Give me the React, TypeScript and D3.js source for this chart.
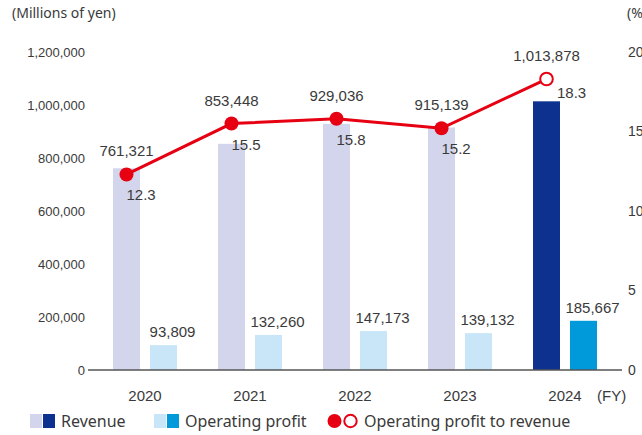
import React from "react";
import * as d3 from "d3";

const years = ["2020", "2021", "2022", "2023", "2024"];
const revenue = [761321, 853448, 929036, 915139, 1013878];
const opProfit = [93809, 132260, 147173, 139132, 185667];
const opMargin = [12.3, 15.5, 15.8, 15.2, 18.3];
const leftTicks = [0, 200000, 400000, 600000, 800000, 1000000, 1200000];
const rightTicks = [0, 5, 10, 15, 20];
const highlightYear = "2024";

const W = 642;
const H = 435;
const FONT = "'Liberation Sans', Arial, sans-serif";
const FONT2 = "'Noto Sans', sans-serif";
const TXT = "#3a3a3a";
const RED = "#e60012";

export default function App() {
  const x = d3.scaleBand<string>().domain(years).range([92.5, 617.5]).padding(0);
  const y = d3.scaleLinear().domain([0, 1200000]).range([370, 52]);
  const yr = d3.scaleLinear().domain([0, 20]).range([370, 52]);
  const fmt = d3.format(",");
  const barW = 27;
  const gap = 5;
  const cx = (yv: string) => (x(yv) as number) + x.bandwidth() / 2;
  const revX = (yv: string) => cx(yv) - gap - barW;
  const opX = (yv: string) => cx(yv) + gap;
  const ptX = (yv: string) => revX(yv) + barW / 2;

  const line = d3
    .line<number>()
    .x((_, i) => ptX(years[i]))
    .y((d) => yr(d));

  return (
    <svg width={W} height={H} style={{ position: "absolute", left: 0, top: 0 }} fontFamily={FONT}>
      <rect width={W} height={H} fill="#fff" />
      <text x={12} y={18} fontSize={14} fill={TXT} fontFamily={FONT2}>(Millions of yen)</text>
      <text x={627} y={18} fontSize={14} fill={TXT} fontFamily={FONT2}>(%)</text>

      {leftTicks.map((t) => (
        <text key={t} x={85} y={y(t)} dy="0.35em" textAnchor="end" fontSize={13} fill={TXT}>
          {fmt(t)}
        </text>
      ))}
      {rightTicks.map((t) => (
        <text key={t} x={628} y={yr(t)} dy="0.35em" textAnchor="start" fontSize={14} fill={TXT}>
          {t}
        </text>
      ))}

      {years.map((yv, i) => {
        const hi = yv === highlightYear;
        return (
          <g key={yv}>
            <rect x={revX(yv)} y={y(revenue[i])} width={barW} height={y(0) - y(revenue[i])} fill={hi ? "#0c318f" : "#d3d5ec"} />
            <rect x={opX(yv)} y={y(opProfit[i])} width={barW} height={y(0) - y(opProfit[i])} fill={hi ? "#0099d9" : "#c8e6f7"} />
          </g>
        );
      })}

      <line x1={88} x2={622} y1={370} y2={370} stroke="#555" strokeWidth={1.5} />

      {years.map((yv) => (
        <text key={yv} x={cx(yv)} y={401} textAnchor="middle" fontSize={15} fill={TXT}>
          {yv}
        </text>
      ))}
      <text x={597} y={401} fontSize={15} fill={TXT}>(FY)</text>

      <path d={line(opMargin) || ""} fill="none" stroke={RED} strokeWidth={3} />
      {years.map((yv, i) => {
        const hi = yv === highlightYear;
        return hi ? (
          <circle key={yv} cx={ptX(yv)} cy={yr(opMargin[i])} r={6.3} fill="#fff" stroke={RED} strokeWidth={2} />
        ) : (
          <circle key={yv} cx={ptX(yv)} cy={yr(opMargin[i])} r={7} fill={RED} />
        );
      })}

      {years.map((yv, i) => {
        const hi = yv === highlightYear;
        const px = ptX(yv);
        const py = yr(opMargin[i]);
        return (
          <g key={yv} fontSize={15} fill={TXT}>
            <text x={px} y={py - 18} textAnchor="middle">{fmt(revenue[i])}</text>
            <text x={hi ? revX(yv) + barW - 3 : px} y={hi ? py + 19 : py + 26} textAnchor="start">
              {opMargin[i].toFixed(1)}
            </text>
            <text x={opX(yv) + barW / 2 + 9} y={y(opProfit[i]) - 8} textAnchor="middle">
              {fmt(opProfit[i])}
            </text>
          </g>
        );
      })}

      <g fontSize={16} fill={TXT} fontFamily={FONT2}>
        <rect x={30} y={414} width={12} height={14} fill="#d3d5ec" />
        <rect x={43} y={414} width={12} height={14} fill="#0c318f" />
        <text x={61} y={427}>Revenue</text>
        <rect x={154} y={414} width={12} height={14} fill="#c8e6f7" />
        <rect x={167} y={414} width={12} height={14} fill="#0099d9" />
        <text x={185} y={427}>Operating profit</text>
        <circle cx={334.5} cy={421} r={7} fill={RED} />
        <circle cx={350.5} cy={421} r={6.2} fill="#fff" stroke={RED} strokeWidth={2} />
        <text x={364} y={427}>Operating profit to revenue</text>
      </g>
    </svg>
  );
}
